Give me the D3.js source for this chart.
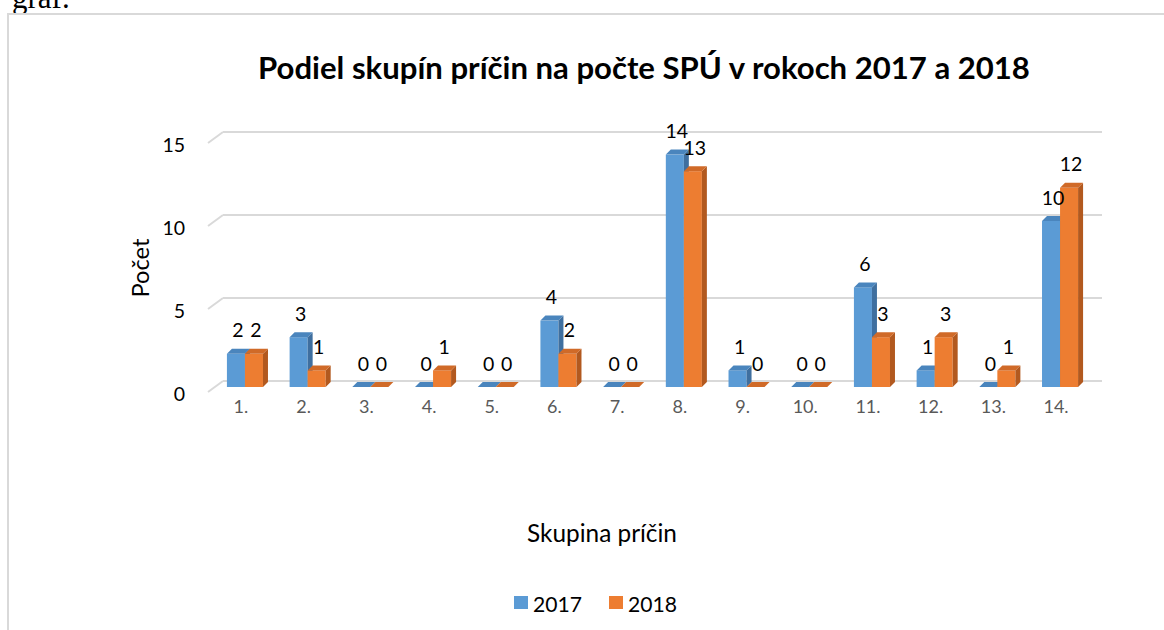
<!DOCTYPE html>
<html><head><meta charset="utf-8">
<script src="https://cdn.jsdelivr.net/npm/d3@7"></script>
<style>html,body{margin:0;padding:0;background:#fff;}svg{display:block;}</style>
</head><body>
<svg id="c" width="1164" height="630"></svg>
<script>
const categories = ["1.","2.","3.","4.","5.","6.","7.","8.","9.","10.","11.","12.","13.","14."];
const series = ["2017","2018"];
const values2017 = [2,3,0,0,0,4,0,14,1,0,6,1,0,10];
const values2018 = [2,1,0,1,0,2,0,13,0,0,3,3,1,12];
const yTicks = [0,5,10,15];
const title = "Podiel skupín príčin na počte SPÚ v rokoch 2017 a 2018";
const yTitle = "Počet";
const xTitle = "Skupina príčin";

const colors = {
  "2017": {front:"#5B9BD5", side:"#3F6F9F", top:"#4A85BD"},
  "2018": {front:"#ED7D31", side:"#B2591F", top:"#D06A28"}
};
const FONT = "Lato, 'Open Sans', sans-serif";
const svg = d3.select("#c");

function fit(sel, target){
  const n = sel.node();
  const fs = parseFloat(sel.attr("font-size"));
  const w = n.getComputedTextLength();
  if (w > 0) sel.attr("font-size", (fs*target/w).toFixed(2));
  return sel;
}

// page text fragment above the chart
svg.append("text").attr("x",12).attr("y",8).attr("font-family","'Liberation Serif', serif")
  .attr("font-size",31).attr("fill","#000").text("graf.");

// chart border
svg.append("rect").attr("x",8).attr("y",14).attr("width",1200).attr("height",700)
  .attr("fill","#fff").attr("stroke","#d9d9d9").attr("stroke-width",2);

// scales
const yF = d3.scaleLinear().domain([0,15]).range([387,138]); // front plane
const depth = {dx:15, dy:-6};
const yB = v => yF(v) + depth.dy; // back wall
const x = d3.scaleBand().domain(categories).range([213.6,1091.4]).paddingInner(0.425).paddingOuter(0.2125);
const xs = d3.scaleBand().domain(series).range([0, x.bandwidth()]);

// gridlines
const grid = svg.append("g");
yTicks.forEach(v => {
  grid.append("line").attr("x1",223).attr("x2",1102).attr("y1",yB(v)).attr("y2",yB(v))
    .attr("stroke","#d9d9d9").attr("stroke-width",2);
  grid.append("line").attr("x1",208).attr("x2",223).attr("y1",yB(v)+11).attr("y2",yB(v))
    .attr("stroke","#d9d9d9").attr("stroke-width",2);
});

// y tick labels
svg.append("g").selectAll("text").data(yTicks).join("text")
  .attr("x",185).attr("y",v => yB(v)+12).attr("text-anchor","end").attr("dominant-baseline","central")
  .attr("font-family",FONT).attr("font-size",19.5).attr("fill","#000").text(v => v);

// bars (3D)
const bdx = 5, bdy = -5;
const rows = [];
categories.forEach((c,i) => {
  rows.push({c, s:"2017", v:values2017[i]});
  rows.push({c, s:"2018", v:values2018[i]});
});
const bars = svg.append("g");
rows.forEach(d => {
  const x0 = x(d.c) + xs(d.s), w = xs.bandwidth();
  const yt = yF(d.v), yb = yF(0);
  const col = colors[d.s];
  if (d.v > 0) {
    bars.append("rect").attr("x",x0).attr("y",yt).attr("width",w).attr("height",yb-yt).attr("fill",col.front);
    bars.append("polygon").attr("points",[[x0+w,yt],[x0+w+bdx,yt+bdy],[x0+w+bdx,yb+bdy],[x0+w,yb]].join(" "))
      .attr("fill",col.side);
  }
  bars.append("polygon").attr("points",[[x0,yt],[x0+bdx,yt+bdy],[x0+w+bdx,yt+bdy],[x0+w,yt]].join(" "))
    .attr("fill",col.top);
});

// data labels
svg.append("g").selectAll("text").data(rows).join("text")
  .attr("x", d => x(d.c) + xs(d.s) + xs.bandwidth()/2 + 2)
  .attr("y", d => yF(d.v) - 24)
  .attr("text-anchor","middle").attr("dominant-baseline","central")
  .attr("font-family",FONT).attr("font-size",19.5).attr("fill","#000").text(d => d.v);

// category labels
svg.append("g").selectAll("text").data(categories).join("text")
  .attr("x", c => x(c) + x.bandwidth()/2 - 4).attr("y",406)
  .attr("text-anchor","middle").attr("dominant-baseline","central")
  .attr("font-family",FONT).attr("font-size",18).attr("fill","#595959").text(c => c);

// title
fit(svg.append("text").attr("x",644).attr("y",67).attr("text-anchor","middle").attr("dominant-baseline","central")
  .attr("font-family",FONT).attr("font-weight","bold").attr("font-size",26).attr("fill","#000").text(title), 772);

// axis titles
fit(svg.append("text").attr("transform","translate(140,268) rotate(-90)").attr("text-anchor","middle")
  .attr("dominant-baseline","central").attr("font-family",FONT).attr("font-size",20).attr("fill","#000").text(yTitle), 59);
fit(svg.append("text").attr("x",602).attr("y",532).attr("text-anchor","middle").attr("dominant-baseline","central")
  .attr("font-family",FONT).attr("font-size",20).attr("fill","#000").text(xTitle), 150);

// legend
const legX = [514, 609];
const leg = svg.append("g");
series.forEach((s,i) => {
  leg.append("rect").attr("x",legX[i]).attr("y",596).attr("width",14).attr("height",13).attr("fill",colors[s].front);
  fit(leg.append("text").attr("x",legX[i]+19).attr("y",603).attr("dominant-baseline","central")
    .attr("font-family",FONT).attr("font-size",20).attr("fill","#000").text(s), 49);
});
</script>
</body></html>
